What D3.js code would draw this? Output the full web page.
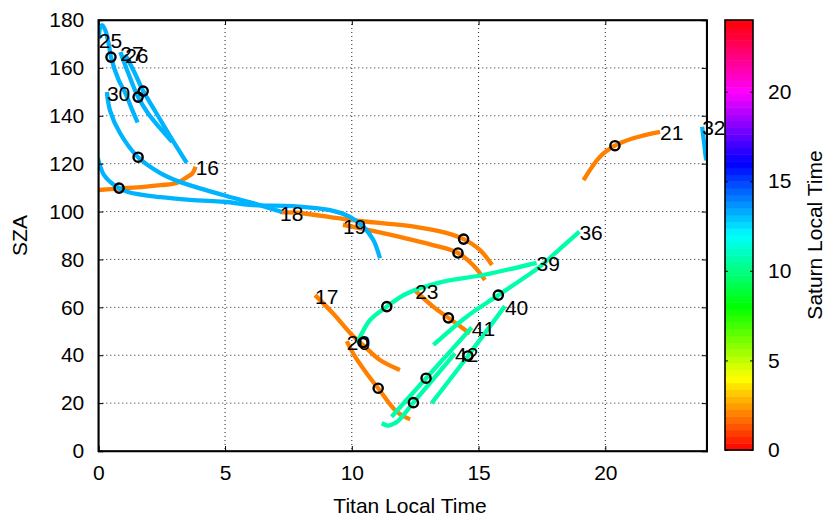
<!DOCTYPE html>
<html>
<head>
<meta charset="utf-8">
<script src="https://cdn.jsdelivr.net/npm/d3@7"></script>
<style>
  body { margin: 0; background: #fff; }
  svg { display: block; font-family: Arial, "Liberation Sans", sans-serif; }
</style>
</head>
<body>
<svg id="chart"></svg>
<script>
// flyby numbers, Saturn local time of each flyby, and the Titan local time / SZA tracks
const flybys = ["16", "17", "18", "19", "20", "21", "23", "25", "26", "27", "30", "32", "36", "39", "40", "41", "42"];
const saturnLT = [2.0, 2.0, 2.0, 2.0, 2.0, 2.0, 2.0, 13.2, 13.2, 13.2, 13.2, 13.2, 10.7, 10.7, 10.7, 10.7, 10.7];

const titanLT = [
  [3.84, 3.71, 3.51, 3.12, 2.46, 1.8, 0.82, 0],
  [8.55, 9.3, 9.93, 10.52, 11.11, 11.9],
  [7.17, 7.96, 9.93, 12.57, 13.76, 14.41, 15.06, 15.53],
  [9.65, 11.23, 13.2, 14.19, 14.78, 15.25],
  [9.8, 10.13, 10.59, 11.04, 11.77, 12.3],
  [22.16, 21.1, 20.38, 19.79, 19.14],
  [12.5, 13.22, 13.81, 14.66],
  [0.02, 0.08, 0.16, 0.29, 0.42, 0.5, 0.8, 1.05, 1.3, 1.55],
  [1.06, 1.41, 1.77, 2.24, 2.83, 3.49],
  [0.87, 1.21, 1.57, 1.96, 2.43, 2.91],
  [0.34, 0.46, 0.86, 1.57, 2.43, 3.22, 4.92, 6.1, 7.25],
  [23.82, 23.9, 23.97, 0, 0.22, 0.62, 1.14, 2.46, 3.78, 4.96, 6.11, 7.68, 9.14, 9.93, 10.45, 10.85, 11.11],
  [18.98, 18.08, 17.42, 15.78, 14.53, 13.22],
  [17.29, 15.19, 13.61, 12.17, 11.38, 10.72, 10.26, 10.2],
  [16.04, 14.58, 13.15],
  [14.73, 12.93, 11.57],
  [14.07, 12.43, 11.82, 11.59, 11.43, 11.18]
];
const szaTrack = [
  [118.7, 115.9, 114.5, 112, 111, 110.3, 109.6, 109],
  [65.1, 57, 49.3, 43.5, 38, 33.8],
  [99.8, 99.4, 96.5, 93.5, 91, 88.5, 83.9, 77.7],
  [94.4, 91, 86, 82.7, 77.7, 71.4],
  [45.9, 39.4, 32.4, 26.2, 16.4, 13.2],
  [133.3, 130.6, 127.5, 122.9, 113.1],
  [67, 60.2, 55.6, 49.1],
  [172, 177, 177.8, 175.3, 169.5, 164.5, 155, 149.9, 143.4, 137.2],
  [165.5, 158.5, 150.3, 142, 131.5, 120.3],
  [166.6, 157, 147.8, 141.1, 134.9, 129.1],
  [149.9, 142.3, 132.7, 122.7, 116.2, 112.4, 106.9, 103.5, 99.8],
  [135.4, 128.5, 122.4, 121.5, 115.3, 111.1, 108.3, 106, 104.8, 104.1, 102.7, 102.3, 100.6, 97.8, 93.7, 88.1, 80.5],
  [91.6, 83.2, 77, 65.1, 56.1, 44.3],
  [78.6, 73.5, 70.7, 65.8, 60.3, 54.7, 46.3, 45],
  [60.5, 39.7, 20],
  [51.6, 30.4, 14.3],
  [40.8, 20.2, 12.5, 11.1, 10.6, 11.6]
];
// closest approach (null = not shown)
const caTitanLT = [0.82, 10.44, 14.41, 14.19, 11.04, 20.38, 13.81, 0.5, 1.77, 1.57, 1.57, null, 15.78, 11.38, 14.58, 12.93, 12.43];
const caSZA = [109.8, 45.3, 88.5, 82.7, 26.2, 127.5, 55.6, 164.5, 150.3, 147.8, 122.7, null, 65.1, 60.3, 39.7, 30.4, 20.2];

const xTicks = [0, 5, 10, 15, 20];
const yTicks = [0, 20, 40, 60, 80, 100, 120, 140, 160, 180];
const cbTicks = [0, 5, 10, 15, 20];

const W = 823, H = 516;
const pLeft = 98.3, pRight = 706.7, pTop = 20, pBottom = 451;
const fs = "21px";

const svg = d3.select("#chart").attr("width", W).attr("height", H);

const x = d3.scaleLinear().domain([0, 24]).range([pLeft, pRight]);
const y = d3.scaleLinear().domain([0, 180]).range([pBottom, pTop]);
const hsv = t => d3.hsl((t / 24) * 360, 1, 0.5).formatHex();

svg.append("defs").append("clipPath").attr("id", "clip")
  .append("rect").attr("x", pLeft).attr("y", pTop).attr("width", pRight - pLeft).attr("height", pBottom - pTop);

// grid
const grid = svg.append("g").attr("stroke", "#222").attr("stroke-width", 1).attr("stroke-dasharray", "1,3");
grid.selectAll(".gx").data(xTicks.slice(1)).join("line").attr("class", "gx")
  .attr("x1", d => x(d)).attr("x2", d => x(d)).attr("y1", pTop).attr("y2", pBottom);
grid.selectAll(".gy").data(yTicks.slice(1, -1)).join("line").attr("class", "gy")
  .attr("y1", d => y(d)).attr("y2", d => y(d)).attr("x1", pLeft).attr("x2", pRight);

// tracks
const line = d3.line().x(d => x(d[0])).y(d => y(d[1])).curve(d3.curveCatmullRom.alpha(0.5));
const plot = svg.append("g").attr("clip-path", "url(#clip)");

flybys.forEach((f, i) => {
  const pts = titanLT[i].map((t, j) => [t, szaTrack[i][j]]);
  // split where local time wraps round 24 -> 0
  const segs = [[pts[0]]];
  for (let j = 1; j < pts.length; j++) {
    if (Math.abs(pts[j][0] - pts[j - 1][0]) > 12) {
      segs[segs.length - 1].push([pts[j][0] + 24, pts[j][1]]);
      segs.push([[pts[j - 1][0] - 24, pts[j - 1][1]], pts[j]]);
    } else segs[segs.length - 1].push(pts[j]);
  }
  segs.forEach(s => {
    plot.append("path").attr("d", line(s))
      .attr("fill", "none").attr("stroke", hsv(saturnLT[i]))
      .attr("stroke-width", 4.3).attr("stroke-linecap", "butt");
  });
});

flybys.forEach((f, i) => {
  if (caTitanLT[i] == null) return;
  plot.append("circle")
    .attr("cx", x(caTitanLT[i])).attr("cy", y(caSZA[i])).attr("r", 4.6)
    .attr("fill", "none").attr("stroke", "#000").attr("stroke-width", 2.4);
});

svg.append("g").selectAll("text").data(flybys).join("text")
  .attr("x", (d, i) => x(titanLT[i][0]))
  .attr("y", (d, i) => y(szaTrack[i][0]) + 3)
  .attr("dominant-baseline", "middle")
  .style("font-size", fs)
  .text(d => d);

// axes, box with inward ticks
const fmt = d3.format("d");
const axB = svg.append("g").attr("transform", `translate(0,${pBottom})`)
  .call(d3.axisBottom(x).tickValues(xTicks).tickSize(-5).tickPadding(14).tickFormat(fmt));
const axT = svg.append("g").attr("transform", `translate(0,${pTop})`)
  .call(d3.axisTop(x).tickValues(xTicks).tickSize(-5).tickFormat(""));
const axL = svg.append("g").attr("transform", `translate(${pLeft},0)`)
  .call(d3.axisLeft(y).tickValues(yTicks).tickSize(-5).tickPadding(14).tickFormat(fmt));
const axR = svg.append("g").attr("transform", `translate(${pRight},0)`)
  .call(d3.axisRight(y).tickValues(yTicks).tickSize(-5).tickFormat(""));
[axB, axT, axL, axR].forEach(a => {
  a.select(".domain").attr("stroke", "#000").attr("stroke-width", 1.6);
  a.selectAll(".tick line").attr("stroke", "#000");
  a.selectAll("text").style("font-size", fs).attr("fill", "#000");
});
svg.append("rect").attr("x", pLeft).attr("y", pTop).attr("width", pRight - pLeft).attr("height", pBottom - pTop)
  .attr("fill", "none").attr("stroke", "#000").attr("stroke-width", 1.6);

svg.append("text").attr("x", 410).attr("y", 513)
  .attr("text-anchor", "middle").style("font-size", fs).text("Titan Local Time");
svg.append("text").attr("transform", `translate(27,${(pTop + pBottom) / 2}) rotate(-90)`)
  .attr("text-anchor", "middle").style("font-size", fs).text("SZA");

// colorbar
const cbX = 725, cbW = 28;
const c = d3.scaleLinear().domain([0, 24]).range([450, 20]);
const nSteps = 64;
svg.append("g").selectAll("rect").data(d3.range(nSteps)).join("rect")
  .attr("x", cbX).attr("width", cbW)
  .attr("y", d => c((d + 1) * 24 / nSteps))
  .attr("height", d => c(d * 24 / nSteps) - c((d + 1) * 24 / nSteps) + 0.5)
  .attr("fill", d => hsv((d + 0.5) * 24 / nSteps));
const cbR = svg.append("g").attr("transform", `translate(${cbX + cbW},0)`)
  .call(d3.axisRight(c).tickValues(cbTicks).tickSize(-3).tickPadding(15).tickFormat(fmt));
const cbL = svg.append("g").attr("transform", `translate(${cbX},0)`)
  .call(d3.axisLeft(c).tickValues(cbTicks).tickSize(-3).tickFormat(""));
[cbR, cbL].forEach(a => {
  a.select(".domain").remove();
  a.selectAll(".tick line").attr("stroke", "#000");
  a.selectAll("text").style("font-size", fs).attr("fill", "#000");
});
svg.append("rect").attr("x", cbX).attr("y", 20).attr("width", cbW).attr("height", 430)
  .attr("fill", "none").attr("stroke", "#000").attr("stroke-width", 1.6);
svg.append("text").attr("transform", `translate(822,${(20 + 450) / 2}) rotate(-90)`)
  .attr("text-anchor", "middle").style("font-size", fs).text("Saturn Local Time");
</script>
</body>
</html>
